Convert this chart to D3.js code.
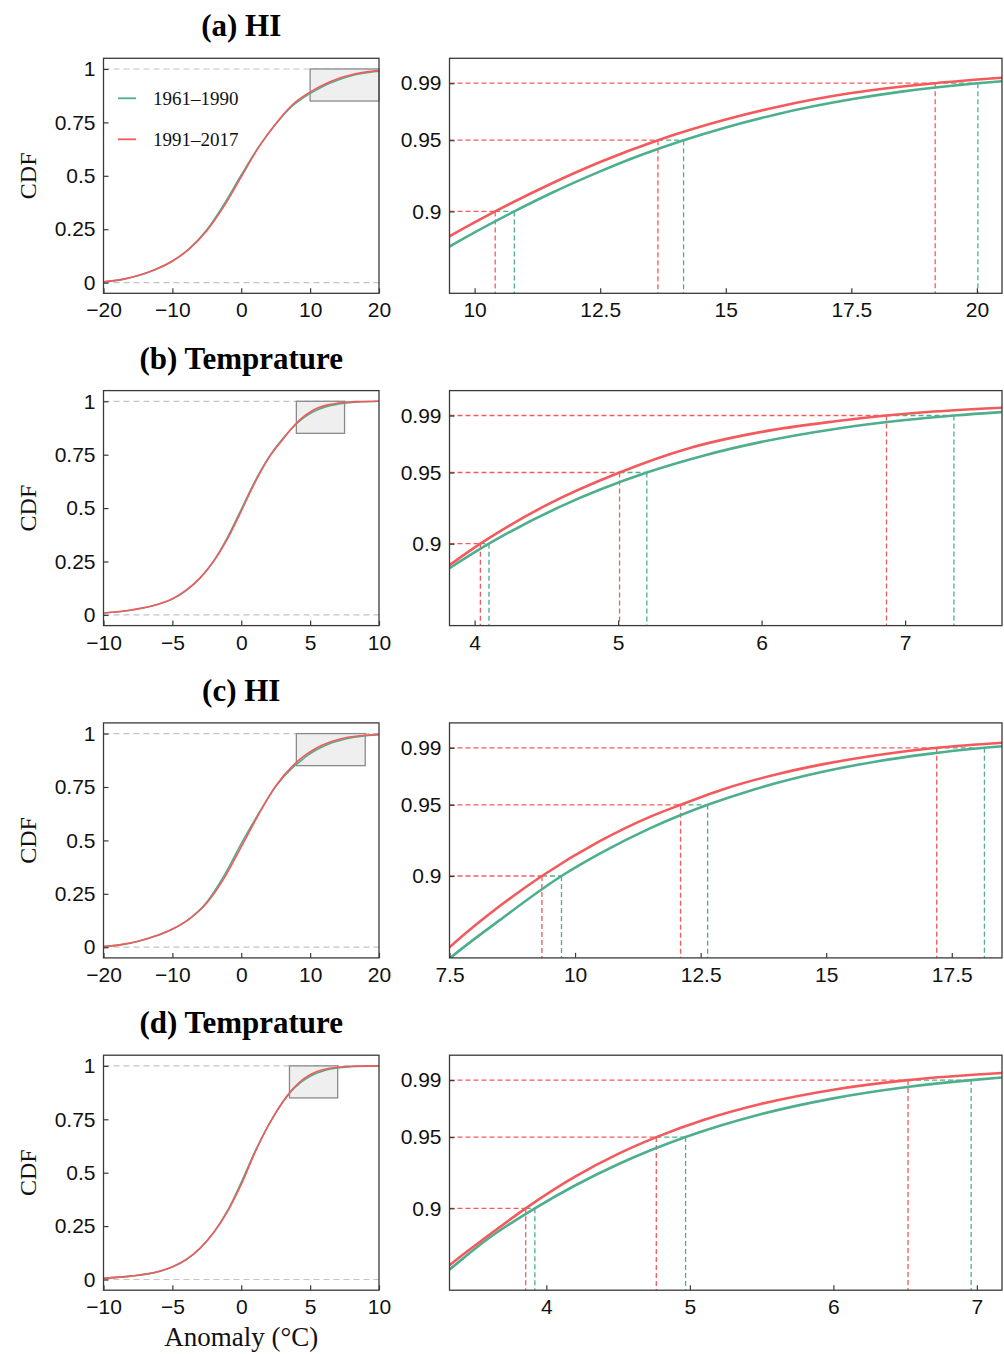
<!DOCTYPE html>
<html>
<head>
<meta charset="utf-8">
<script src="https://cdn.jsdelivr.net/npm/d3@7"></script>
<style>
  html, body { margin: 0; padding: 0; background: #fff; }
  svg { display: block; }
</style>
</head>
<body>
<svg id="chart" width="1004" height="1354"></svg>
<script>
// ---------------------------------------------------------------
// Empirical CDFs of daily anomalies, two climate periods
// ---------------------------------------------------------------
const periods = ["1961–1990", "1991–2017"];
const periodColors = ["#4DAF8C", "#F45A5C"];
const probLevels = [0.9, 0.95, 0.99];

const panelTitles = ["(a) HI", "(b) Temprature", "(c) HI", "(d) Temprature"];

// full-range x ticks
const hiTicks = [-20, -10, 0, 10, 20];
const tempTicks = [-10, -5, 0, 5, 10];
const cdfTicks = [0, 0.25, 0.5, 0.75, 1];
const cdfTickLabels = ["0", "0.25", "0.5", "0.75", "1"];
const tailTicks = [0.9, 0.95, 0.99];
const tailTickLabels = ["0.9", "0.95", "0.99"];

// (a) HI
const hiA_x1 = [-20, -17.5, -15, -12.5, -10, -7.5, -5, -2.5, 0, 2.5, 5, 7.5, 8.5, 9.5, 10.79, 11.5, 12.5, 13.3, 14.16, 15, 16, 17.5, 18.5, 20.02, 20.5];
const hiA_p1 = [0.003, 0.013, 0.032, 0.060, 0.100, 0.160, 0.247, 0.367, 0.504, 0.634, 0.741, 0.829, 0.8535, 0.8753, 0.900, 0.9124, 0.9281, 0.9394, 0.950, 0.959, 0.9681, 0.9787, 0.9841, 0.990, 0.9914];
const hiA_x2 = [-20, -17.5, -15, -12.5, -10, -7.5, -5, -2.5, 0, 2.5, 5, 7.5, 8.5, 9.5, 10.41, 11.5, 12.5, 13.65, 15, 16, 17.5, 19.17, 20.5];
const hiA_p2 = [0.004, 0.014, 0.033, 0.061, 0.101, 0.159, 0.243, 0.358, 0.495, 0.632, 0.744, 0.835, 0.861, 0.8825, 0.900, 0.9191, 0.9347, 0.950, 0.9645, 0.9732, 0.9831, 0.990, 0.9938];
const hiA_q1 = [10.79, 14.16, 20.02];
const hiA_q2 = [10.41, 13.65, 19.17];
const hiA_zoom = [10, 20];
const hiA_zoomTicks = [10, 12.5, 15, 17.5, 20];

// (b) Temperature
const tmB_x1 = [-10, -8, -6, -5, -4, -3, -2, -1, 0, 1, 2, 3, 3.5, 3.83, 4.10, 4.6, 5.2, 5.6, 6, 6.5, 7, 7.34, 7.67, 8.5, 10];
const tmB_p1 = [0.009, 0.022, 0.050, 0.074, 0.114, 0.172, 0.253, 0.363, 0.494, 0.626, 0.738, 0.824, 0.8605, 0.8831, 0.900, 0.9262, 0.950, 0.962, 0.9715, 0.9804, 0.9868, 0.990, 0.9924, 0.9966, 1.0];
const tmB_x2 = [-10, -8, -6, -5, -4, -3, -2, -1, 0, 1, 2, 3, 3.5, 3.83, 4.04, 4.5, 5.01, 5.5, 6, 6.5, 6.87, 7.2, 7.67, 8.5, 10];
const tmB_p2 = [0.009, 0.023, 0.051, 0.076, 0.116, 0.172, 0.251, 0.356, 0.486, 0.620, 0.735, 0.820, 0.861, 0.8853, 0.900, 0.9271, 0.950, 0.9672, 0.9785, 0.9858, 0.990, 0.9928, 0.9955, 0.9982, 1.0];
const tmB_q1 = [4.10, 5.20, 7.34];
const tmB_q2 = [4.04, 5.01, 6.87];
const tmB_zoom = [4, 7.5];
const tmB_zoomTicks = [4, 5, 6, 7];

// (c) HI
const hiC_x1 = [-20, -17.5, -15, -12.5, -10, -7.5, -5, -2.5, 0, 2.5, 5, 7.5, 8.5, 9.73, 10.5, 11.5, 12.64, 13.5, 15, 16, 17, 18.15, 18.5, 20];
const hiC_p1 = [0.003, 0.011, 0.027, 0.051, 0.084, 0.134, 0.212, 0.335, 0.485, 0.625, 0.752, 0.842, 0.869, 0.900, 0.9159, 0.9336, 0.950, 0.9601, 0.9737, 0.9804, 0.98555, 0.990, 0.9911, 0.9946];
const hiC_x2 = [-20, -17.5, -15, -12.5, -10, -7.5, -5, -2.5, 0, 2.5, 5, 7.5, 8.5, 9.34, 10.5, 11.5, 12.1, 13, 14, 15, 16, 17.2, 18.5, 20];
const hiC_p2 = [0.003, 0.012, 0.028, 0.052, 0.085, 0.133, 0.207, 0.322, 0.47, 0.62, 0.755, 0.850, 0.8789, 0.900, 0.9246, 0.9417, 0.950, 0.9615, 0.9713, 0.9789, 0.9848, 0.990, 0.9936, 0.9964];
const hiC_q1 = [9.73, 12.64, 18.15];
const hiC_q2 = [9.34, 12.10, 17.20];
const hiC_zoom = [8, 18];
const hiC_zoomTicks = [7.5, 10, 12.5, 15, 17.5];

// (d) Temperature
const tmD_x1 = [-10, -8, -6, -5, -4, -3, -2, -1, 0, 1, 2, 3, 3.325, 3.6, 3.92, 4.2, 4.5, 4.97, 5.5, 6, 6.5, 6.96, 7.175, 8, 10];
const tmD_p1 = [0.006, 0.016, 0.037, 0.058, 0.092, 0.145, 0.220, 0.322, 0.455, 0.60, 0.725, 0.830, 0.857, 0.8791, 0.900, 0.9160, 0.9309, 0.950, 0.9662, 0.9772, 0.9850, 0.990, 0.9918, 0.9963, 1.0];
const tmD_x2 = [-10, -8, -6, -5, -4, -3, -2, -1, 0, 1, 2, 3, 3.325, 3.6, 3.856, 4.2, 4.5, 4.766, 5.1, 5.5, 6, 6.52, 7, 7.175, 8, 10];
const tmD_p2 = [0.006, 0.016, 0.038, 0.06, 0.094, 0.146, 0.220, 0.318, 0.445, 0.595, 0.725, 0.830, 0.860, 0.8812, 0.900, 0.9222, 0.9382, 0.950, 0.9622, 0.9734, 0.9833, 0.990, 0.9939, 0.9950, 0.998, 1.0];
const tmD_q1 = [3.92, 4.97, 6.96];
const tmD_q2 = [3.856, 4.766, 6.52];
const tmD_zoom = [3.5, 7];
const tmD_zoomTicks = [4, 5, 6, 7];

const zoomCdf = [0.85, 1.0];

const panels = [
  { full: [-20, 20], fullTicks: hiTicks, zoom: hiA_zoom, zoomTicks: hiA_zoomTicks,
    xs: [hiA_x1, hiA_x2], ps: [hiA_p1, hiA_p2], qs: [hiA_q1, hiA_q2] },
  { full: [-10, 10], fullTicks: tempTicks, zoom: tmB_zoom, zoomTicks: tmB_zoomTicks,
    xs: [tmB_x1, tmB_x2], ps: [tmB_p1, tmB_p2], qs: [tmB_q1, tmB_q2] },
  { full: [-20, 20], fullTicks: hiTicks, zoom: hiC_zoom, zoomTicks: hiC_zoomTicks,
    xs: [hiC_x1, hiC_x2], ps: [hiC_p1, hiC_p2], qs: [hiC_q1, hiC_q2] },
  { full: [-10, 10], fullTicks: tempTicks, zoom: tmD_zoom, zoomTicks: tmD_zoomTicks,
    xs: [tmD_x1, tmD_x2], ps: [tmD_p1, tmD_p2], qs: [tmD_q1, tmD_q2] }
];

// ---------------------------------------------------------------
const svg = d3.select("#chart");
const SANS = "'Liberation Sans', Arial, sans-serif";
const SERIF = "'Liberation Serif', 'Times New Roman', serif";

const rowPitch = 332.3;
const frameTop0 = 58.3;
const frameH = 235;
const leftX = [103.5, 379];
const rightX = [449.5, 1002];
const tickLen = 5;

const pad = (d) => { const m = (d[1] - d[0]) * 0.05; return [d[0] - m, d[1] + m]; };

function fmtNum(v) {
  return String(v).replace("-", "\u2212");
}

function drawFrame(g, x0, x1, y0, y1) {
  g.append("rect")
    .attr("x", x0).attr("y", y0)
    .attr("width", x1 - x0).attr("height", y1 - y0)
    .attr("fill", "none").attr("stroke", "#3a3a3a").attr("stroke-width", 1.3);
}

function drawAxes(g, x, y, xTicks, yTicks, yLabels, bottom) {
  const xa = x.range()[0];
  const xg = g.append("g").attr("transform", `translate(0,${bottom})`)
    .call(d3.axisBottom(x).tickValues(xTicks).tickSize(-tickLen).tickPadding(9)
      .tickFormat(fmtNum));
  xg.select(".domain").remove();
  xg.selectAll("line").attr("stroke", "#3a3a3a").attr("stroke-width", 1.2);
  xg.selectAll("text").attr("font-family", SANS).attr("font-size", 21).attr("fill", "#111");

  const yg = g.append("g").attr("transform", `translate(${xa},0)`)
    .call(d3.axisLeft(y).tickValues(yTicks).tickSize(-tickLen).tickPadding(8)
      .tickFormat((d, i) => yLabels[i]));
  yg.select(".domain").remove();
  yg.selectAll("line").attr("stroke", "#3a3a3a").attr("stroke-width", 1.2);
  yg.selectAll("text").attr("font-family", SANS).attr("font-size", 21).attr("fill", "#111");
}

panels.forEach((p, r) => {
  const top = frameTop0 + r * rowPitch;
  const bottom = top + frameH;
  const g = svg.append("g");

  // ---------- title ----------
  g.append("text")
    .attr("x", (leftX[0] + leftX[1]) / 2).attr("y", top - 22)
    .attr("text-anchor", "middle")
    .attr("font-family", SERIF).attr("font-weight", "bold").attr("font-size", 31)
    .attr("fill", "#000")
    .text(panelTitles[r]);

  const series = [0, 1].map(s => p.xs[s].map((v, i) => [v, p.ps[s][i]]));

  // ---------- full-range CDF ----------
  const xL = d3.scaleLinear().domain(p.full).range(leftX);
  const yL = d3.scaleLinear().domain([-0.05, 1.05]).range([bottom, top]);

  const clipL = `clipL${r}`;
  g.append("clipPath").attr("id", clipL).append("rect")
    .attr("x", leftX[0]).attr("y", top).attr("width", leftX[1] - leftX[0]).attr("height", frameH);

  // guide lines at CDF 0 and 1
  [0, 1].forEach(v => {
    g.append("line")
      .attr("x1", leftX[0]).attr("x2", leftX[1])
      .attr("y1", yL(v)).attr("y2", yL(v))
      .attr("stroke", "#c4c4c4").attr("stroke-width", 1.2)
      .attr("stroke-dasharray", "6,4");
  });

  // zoom box
  g.append("rect")
    .attr("x", xL(p.zoom[0])).attr("y", yL(zoomCdf[1]))
    .attr("width", xL(p.zoom[1]) - xL(p.zoom[0]))
    .attr("height", yL(zoomCdf[0]) - yL(zoomCdf[1]))
    .attr("fill", "#efefef").attr("stroke", "#8a8a8a").attr("stroke-width", 1.3);

  const lineL = d3.line().x(d => xL(d[0])).y(d => yL(d[1])).curve(d3.curveMonotoneX);
  series.forEach((pts, s) => {
    g.append("path").datum(pts)
      .attr("clip-path", `url(#${clipL})`)
      .attr("d", lineL)
      .attr("fill", "none").attr("stroke", periodColors[s]).attr("stroke-width", 1.6);
  });

  drawFrame(g, leftX[0], leftX[1], top, bottom);
  drawAxes(g, xL, yL, p.fullTicks, cdfTicks, cdfTickLabels, bottom);

  g.append("text")
    .attr("transform", `translate(${leftX[0] - 76},${(top + bottom) / 2}) rotate(-90)`)
    .attr("text-anchor", "middle").attr("dy", "0.35em")
    .attr("font-family", SERIF).attr("font-size", 24).attr("fill", "#111")
    .text("CDF");

  // ---------- upper tail ----------
  const xR = d3.scaleLinear().domain(pad(p.zoom)).range(rightX);
  const yR = d3.scaleLinear().domain(pad(zoomCdf)).range([bottom, top]);

  const clipR = `clipR${r}`;
  g.append("clipPath").attr("id", clipR).append("rect")
    .attr("x", rightX[0]).attr("y", top).attr("width", rightX[1] - rightX[0]).attr("height", frameH);

  const gr = g.append("g").attr("clip-path", `url(#${clipR})`);

  // quantile guides: horizontal from the axis to the curve, vertical down to the axis
  probLevels.forEach((lev, i) => {
    const qG = p.qs[0][i], qR = p.qs[1][i];
    const guides = [
      { s: 0, x0: Math.min(qR, qG), x1: qG },
      { s: 1, x0: null, x1: qR }
    ];
    guides.forEach(d => {
      gr.append("line")
        .attr("x1", d.x0 === null ? rightX[0] : xR(d.x0)).attr("x2", xR(d.x1))
        .attr("y1", yR(lev)).attr("y2", yR(lev))
        .attr("stroke", periodColors[d.s]).attr("stroke-width", 1.3)
        .attr("stroke-dasharray", "5,3");
      gr.append("line")
        .attr("x1", xR(d.x1)).attr("x2", xR(d.x1))
        .attr("y1", yR(lev)).attr("y2", bottom)
        .attr("stroke", periodColors[d.s]).attr("stroke-width", 1.3)
        .attr("stroke-dasharray", "5,3");
    });
  });

  const lineR = d3.line().x(d => xR(d[0])).y(d => yR(d[1])).curve(d3.curveMonotoneX);
  series.forEach((pts, s) => {
    gr.append("path").datum(pts)
      .attr("d", lineR)
      .attr("fill", "none").attr("stroke", periodColors[s]).attr("stroke-width", 2.6);
  });

  drawFrame(g, rightX[0], rightX[1], top, bottom);
  drawAxes(g, xR, yR, p.zoomTicks, tailTicks, tailTickLabels, bottom);

  // ---------- legend (first row only) ----------
  if (r === 0) {
    const leg = g.append("g");
    periods.forEach((name, s) => {
      const ly = top + 40 + s * 41;
      leg.append("line")
        .attr("x1", 118).attr("x2", 136).attr("y1", ly).attr("y2", ly)
        .attr("stroke", periodColors[s]).attr("stroke-width", 1.8);
      leg.append("text")
        .attr("x", 153).attr("y", ly).attr("dy", "0.35em")
        .attr("font-family", SERIF).attr("font-size", 19).attr("fill", "#111")
        .text(name);
    });
  }
});

// shared x-axis title
svg.append("text")
  .attr("x", (leftX[0] + leftX[1]) / 2)
  .attr("y", frameTop0 + 3 * rowPitch + frameH + 56)
  .attr("text-anchor", "middle")
  .attr("font-family", SERIF).attr("font-size", 27).attr("fill", "#111")
  .text("Anomaly (°C)");
</script>
</body>
</html>
